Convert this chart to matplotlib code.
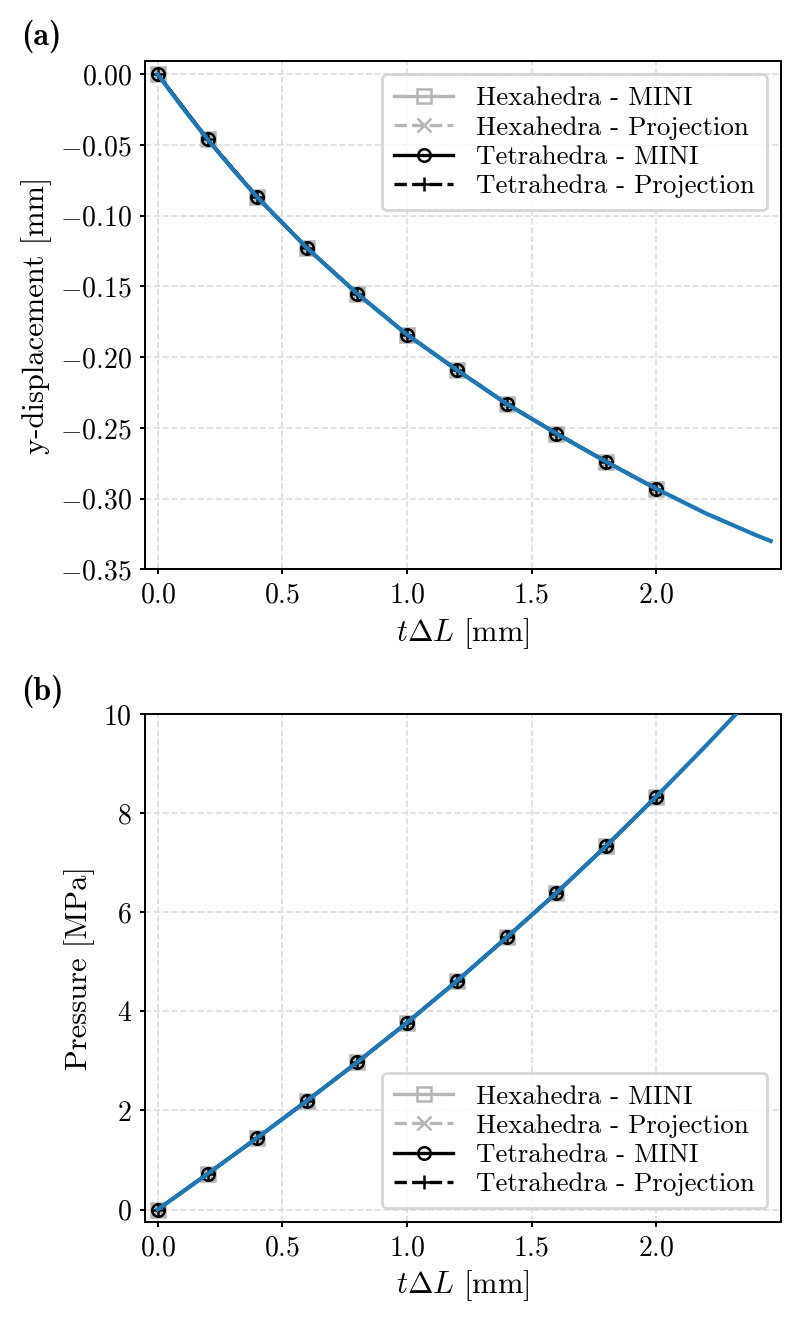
import matplotlib
matplotlib.use("Agg")
import matplotlib.pyplot as plt

plt.rcParams['font.family'] = 'serif'
plt.rcParams['font.serif'] = ['cmr10', 'DejaVu Serif']
plt.rcParams['mathtext.fontset'] = 'cm'
plt.rcParams['axes.formatter.use_mathtext'] = True
plt.rcParams['axes.unicode_minus'] = True

# ---------------- data ----------------
t_points = [0.0, 0.2, 0.4, 0.6, 0.8, 1.0, 1.2, 1.4, 1.6, 1.8, 2.0]

disp_hexa_mini = [0.0, -0.046, -0.087, -0.123, -0.155, -0.184, -0.209, -0.233, -0.254, -0.274, -0.293]
disp_hexa_proj = [0.0, -0.046, -0.087, -0.123, -0.155, -0.184, -0.209, -0.233, -0.254, -0.274, -0.293]
disp_tetra_mini = [0.0, -0.046, -0.087, -0.123, -0.155, -0.184, -0.209, -0.233, -0.254, -0.274, -0.293]
disp_tetra_proj = [0.0, -0.046, -0.087, -0.123, -0.155, -0.184, -0.209, -0.233, -0.254, -0.274, -0.293]

pres_hexa_mini = [0.0, 0.72, 1.45, 2.20, 2.97, 3.77, 4.61, 5.49, 6.39, 7.34, 8.33]
pres_hexa_proj = [0.0, 0.72, 1.45, 2.20, 2.97, 3.77, 4.61, 5.49, 6.39, 7.34, 8.33]
pres_tetra_mini = [0.0, 0.72, 1.45, 2.20, 2.97, 3.77, 4.61, 5.49, 6.39, 7.34, 8.33]
pres_tetra_proj = [0.0, 0.72, 1.45, 2.20, 2.97, 3.77, 4.61, 5.49, 6.39, 7.34, 8.33]

# reference (analytical) curves
t_ref_disp = [0.0, 0.1, 0.2, 0.3, 0.4, 0.6, 0.8, 1.0, 1.2, 1.4, 1.6, 1.8, 2.0, 2.2, 2.4, 2.46]
disp_ref = [0.0, -0.0237, -0.046, -0.067, -0.087, -0.123, -0.155, -0.184, -0.209, -0.233, -0.254,
            -0.274, -0.293, -0.3105, -0.3258, -0.3300]
t_ref_pres = [0.0, 0.2, 0.4, 0.6, 0.8, 1.0, 1.2, 1.4, 1.6, 1.8, 2.0, 2.2, 2.4]
pres_ref = [0.0, 0.72, 1.45, 2.20, 2.97, 3.77, 4.61, 5.49, 6.39, 7.34, 8.33, 9.36, 10.42]

labels = ["Hexahedra - MINI", "Hexahedra - Projection",
          "Tetrahedra - MINI", "Tetrahedra - Projection"]

xticks = [0.0, 0.5, 1.0, 1.5, 2.0]
disp_ticks = [0.00, -0.05, -0.10, -0.15, -0.20, -0.25, -0.30, -0.35]
pres_ticks = [0, 2, 4, 6, 8, 10]

# ---------------- figure ----------------
fig = plt.figure(figsize=(4, 6.6), dpi=200)
ax1 = fig.add_axes([0.1816, 0.5687, 0.7943, 0.3851])
ax2 = fig.add_axes([0.1816, 0.0743, 0.7943, 0.3848])

gray = '#b5b5b5'
FS = 10
LFS = 9.7


def draw(ax, hm, hp, tm, tp, tref, yref):
    ax.grid(True, linestyle='--', color='#dddddd', linewidth=0.6, zorder=0)
    ax.set_axisbelow(True)
    ax.plot(t_points, hm, color=gray, linestyle='-', marker='s', markersize=5,
            markerfacecolor='none', markeredgecolor=gray, markeredgewidth=0.9, lw=1.2,
            label=labels[0], zorder=2)
    ax.plot(t_points, hp, color=gray, linestyle='--', marker='x', markersize=5,
            markeredgewidth=0.9, lw=1.2, label=labels[1], zorder=2)
    ax.plot(t_points, tm, color='black', linestyle='-', marker='o', markersize=4.5,
            markerfacecolor='none', markeredgewidth=0.9, lw=1.2, label=labels[2], zorder=3)
    ax.plot(t_points, tp, color='black', linestyle='--', marker='+', markersize=5,
            markeredgewidth=0.9, lw=1.2, label=labels[3], zorder=3)
    ax.plot(tref, yref, color='#1f77b4', lw=1.5, zorder=4)
    ax.set_xlim(-0.05, 2.5)
    ax.set_xticks(xticks)
    ax.tick_params(labelsize=FS, width=0.7, length=1.8, pad=3.0)
    for s in ax.spines.values():
        s.set_linewidth(0.7)
    ax.set_xlabel(r'$t\Delta L$ [mm]', fontsize=FS + 1, labelpad=2.5)


draw(ax1, disp_hexa_mini, disp_hexa_proj, disp_tetra_mini, disp_tetra_proj, t_ref_disp, disp_ref)
ax1.set_ylim(-0.35, 0.0094)
ax1.set_yticks(disp_ticks)
ax1.set_ylabel('y-displacement [mm]', fontsize=FS + 1, labelpad=3)
ax1.legend(loc='upper right', fontsize=LFS, handlelength=2.2, borderaxespad=0.5,
           labelspacing=0.2, handletextpad=0.85, borderpad=0.45)

draw(ax2, pres_hexa_mini, pres_hexa_proj, pres_tetra_mini, pres_tetra_proj, t_ref_pres, pres_ref)
ax2.set_ylim(-0.25, 10)
ax2.set_yticks(pres_ticks)
ax2.set_ylabel('Pressure [MPa]', fontsize=FS + 1, labelpad=3)
ax2.legend(loc='lower right', fontsize=LFS, handlelength=2.2, borderaxespad=0.5,
           labelspacing=0.2, handletextpad=0.85, borderpad=0.45)

fig.text(0.026, 0.972, '(a)', family='cmb10', fontsize=11.5, ha='left', va='center')
fig.text(0.026, 0.476, '(b)', family='cmb10', fontsize=11.5, ha='left', va='center')

fig.savefig('out.png', dpi=200)
